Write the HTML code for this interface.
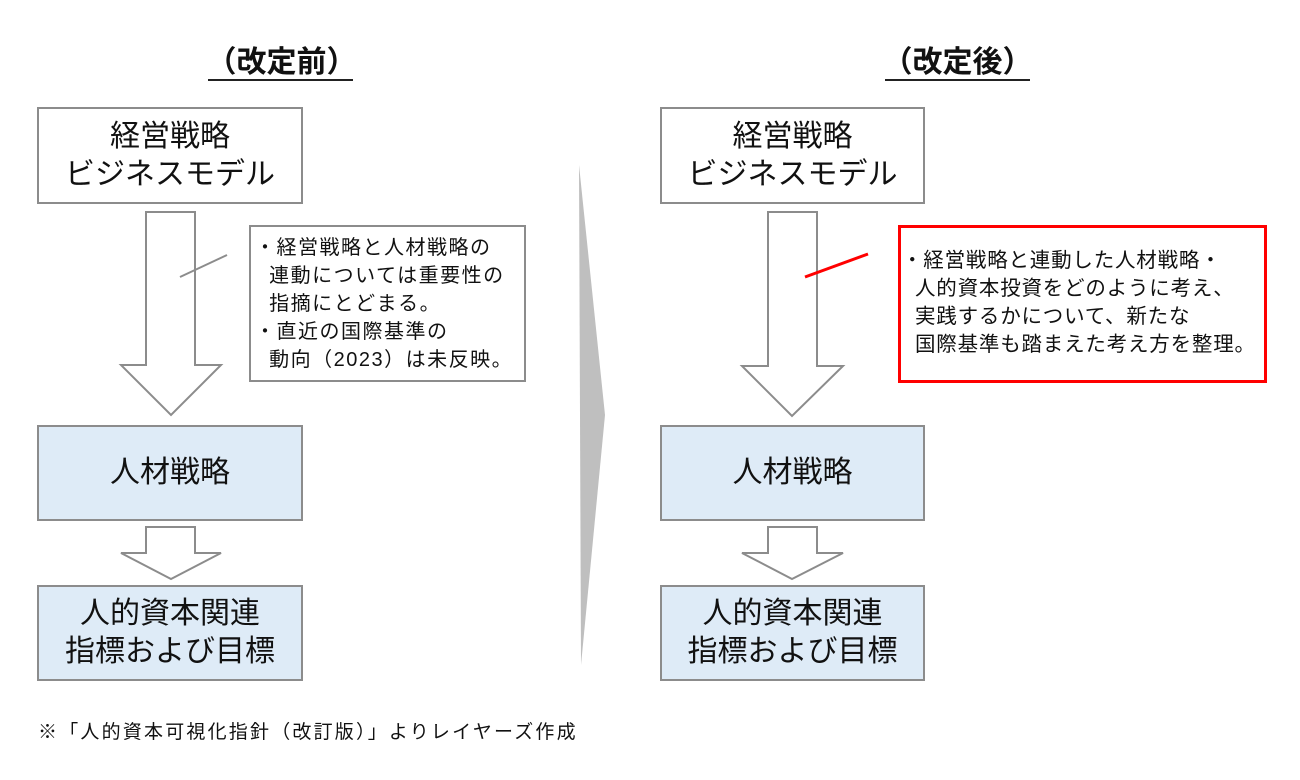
<!DOCTYPE html>
<html><head><meta charset="utf-8">
<style>
body{margin:0;width:1300px;height:780px;background:#fff;position:relative;overflow:hidden;font-family:"Liberation Sans","Noto Sans CJK JP",sans-serif;color:#111;}
.t{position:absolute;white-space:nowrap;}
.box{position:absolute;box-sizing:border-box;border:2px solid #8c8c8c;display:flex;align-items:center;justify-content:center;text-align:center;font-size:30px;line-height:38px;}
.blue{background:#deebf7;}
.note{position:absolute;box-sizing:border-box;font-size:19.5px;line-height:28px;padding-left:4px;padding-top:7px;white-space:nowrap;}
</style></head><body>
<svg width="1300" height="780" style="position:absolute;left:0;top:0">
<polygon points="579,165 605,415 581,665" fill="#bfbfbf"/>
<polygon points="146,212 195,212 195,365 221,365 171,415 121,365 146,365" fill="#fff" stroke="#8c8c8c" stroke-width="2"/>
<polygon points="146,527 195,527 195,553 221,553 171,579 121,553 146,553" fill="#fff" stroke="#8c8c8c" stroke-width="2"/>
<polygon points="768,212 817,212 817,366 843,366 792,416 742,366 768,366" fill="#fff" stroke="#8c8c8c" stroke-width="2"/>
<polygon points="768,527 817,527 817,553 843,553 792,579 742,553 768,553" fill="#fff" stroke="#8c8c8c" stroke-width="2"/>
<line x1="180" y1="277" x2="227" y2="255" stroke="#8c8c8c" stroke-width="2"/>
<line x1="805" y1="277" x2="868" y2="254" stroke="#ff0000" stroke-width="3"/>
<line x1="208" y1="80" x2="353" y2="80" stroke="#222" stroke-width="2"/>
<line x1="885" y1="80" x2="1030" y2="80" stroke="#222" stroke-width="2"/>
</svg>
<div class="t" style="left:204px;top:44px;font-size:30px;line-height:38px;width:155px;text-align:center;font-weight:bold">（改定前）</div>
<div class="t" style="left:880px;top:44px;font-size:30px;line-height:38px;width:155px;text-align:center;font-weight:bold">（改定後）</div>

<div class="box" style="left:37px;top:107px;width:266px;height:97px">経営戦略<br>ビジネスモデル</div>
<div class="box blue" style="left:37px;top:425px;width:266px;height:96px">人材戦略</div>
<div class="box blue" style="left:37px;top:585px;width:266px;height:96px">人的資本関連<br>指標および目標</div>

<div class="box" style="left:660px;top:107px;width:265px;height:97px">経営戦略<br>ビジネスモデル</div>
<div class="box blue" style="left:660px;top:425px;width:265px;height:96px">人材戦略</div>
<div class="box blue" style="left:660px;top:585px;width:265px;height:96px">人的資本関連<br>指標および目標</div>

<div class="note" style="left:249px;top:225px;width:277px;height:157px;border:2px solid #8c8c8c;font-size:20px;letter-spacing:1.5px">・経営戦略と人材戦略の<br>&nbsp;&nbsp;連動については重要性の<br>&nbsp;&nbsp;指摘にとどまる。<br>・直近の国際基準の<br>&nbsp;&nbsp;動向（2023）は未反映。</div>

<div class="note" style="left:898px;top:225px;width:369px;height:158px;border:3px solid #ff0000;font-size:20.5px;padding-top:19px;padding-left:1px;letter-spacing:0.8px">・経営戦略と連動した人材戦略・<br>&nbsp;&nbsp;人的資本投資をどのように考え、<br>&nbsp;&nbsp;実践するかについて、新たな<br>&nbsp;&nbsp;国際基準も踏まえた考え方を整理。</div>

<div class="t" style="left:38px;top:720px;font-size:19px;line-height:26px;letter-spacing:2.2px">※「人的資本可視化指針（改訂版）」よりレイヤーズ作成</div>
</body></html>
